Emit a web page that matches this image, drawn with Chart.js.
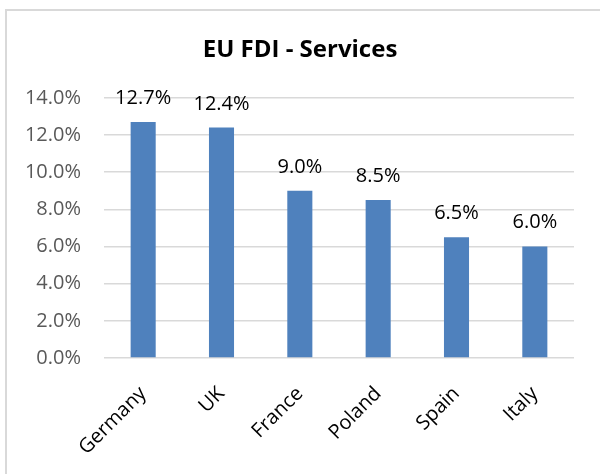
<!DOCTYPE html>
<html>
<head>
<meta charset="utf-8">
<script src="https://cdn.jsdelivr.net/npm/chart.js@4"></script>
<style>
  html, body { margin: 0; padding: 0; background: #fff; }
  #wrap { width: 600px; height: 474px; }
</style>
</head>
<body>
<div id="wrap"><canvas id="fdiChart" width="600" height="474"></canvas></div>
<script>
const countries = ['Germany', 'UK', 'France', 'Poland', 'Spain', 'Italy'];
const shares = [12.7, 12.4, 9.0, 8.5, 6.5, 6.0];
const yTicks = [0, 2, 4, 6, 8, 10, 12, 14];

// grey frame round the chart, like the spreadsheet chart box
const frame = {
    id: 'frame',
    beforeDraw(chart) {
        const ctx = chart.ctx;
        ctx.save();
        ctx.fillStyle = '#fff';
        ctx.fillRect(0, 0, chart.width, chart.height);
        ctx.strokeStyle = '#d9d9d9';
        ctx.lineWidth = 2;
        ctx.strokeRect(6, 10, 700, 600);
        ctx.restore();
    }
};

// value labels above each bar
const valueLabels = {
    id: 'valueLabels',
    afterDatasetsDraw(chart) {
        const ctx = chart.ctx;
        ctx.save();
        ctx.font = '20px "Open Sans"';
        ctx.fillStyle = '#000';
        ctx.textAlign = 'center';
        ctx.textBaseline = 'alphabetic';
        chart.getDatasetMeta(0).data.forEach(function (bar, i) {
            ctx.fillText(shares[i].toFixed(1) + '%', bar.x, bar.y - 18);
        });
        ctx.restore();
    }
};

const fdiChart = new Chart(document.getElementById('fdiChart'), {
    type: 'bar',
    data: {
        labels: countries,
        datasets: [{
            label: 'EU FDI - Services',
            data: shares,
            backgroundColor: '#4f81bd',
            barPercentage: 0.32,
            categoryPercentage: 1
        }]
    },
    options: {
        responsive: false,
        animation: false,
        layout: {
            padding: { top: 36, right: 0, bottom: 0, left: 0 }
        },
        plugins: {
            legend: { display: false },
            tooltip: { enabled: false },
            title: {
                display: true,
                text: 'EU FDI - Services',
                color: '#000',
                font: { size: 24, weight: 'bold', family: 'Open Sans' },
                padding: { top: 0, bottom: 33 }
            }
        },
        scales: {
            x: {
                grid: { display: false },
                border: { display: false },
                ticks: {
                    color: '#000',
                    font: { size: 20, family: 'Open Sans' },
                    minRotation: 45,
                    maxRotation: 45,
                    padding: 16
                },
                afterFit(scale) { scale.height = 116; }
            },
            y: {
                min: 0,
                max: 14,
                border: { display: false },
                grid: { color: '#d9d9d9', lineWidth: 1.5, drawTicks: false },
                afterBuildTicks(scale) {
                    scale.ticks = yTicks.map(function (v) { return { value: v }; });
                },
                ticks: {
                    color: '#595959',
                    font: { size: 20, family: 'Open Sans' },
                    padding: 23,
                    callback: function (v) { return v.toFixed(1) + '%'; }
                },
                afterFit(scale) { scale.width = 104; }
            },
            // empty strip on the right, keeps the plot off the frame edge
            yRight: {
                position: 'right',
                min: 0,
                max: 14,
                grid: { display: false },
                border: { display: false },
                ticks: { display: false },
                afterFit(scale) { scale.width = 26; }
            }
        }
    },
    plugins: [frame, valueLabels]
});
</script>
</body>
</html>
